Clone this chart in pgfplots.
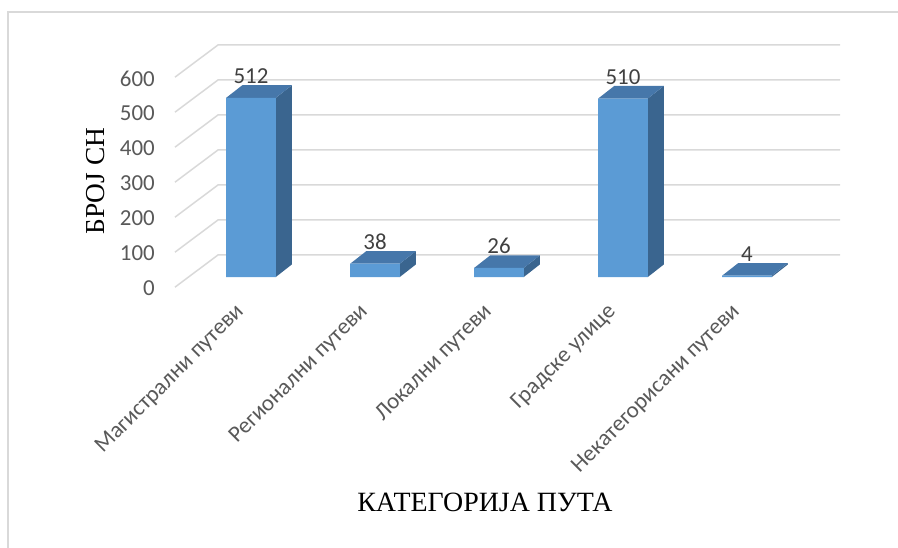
\documentclass[border=0pt]{standalone}
\usepackage{pgfplots}
\pgfplotsset{compat=1.18}
\usepackage{fontspec}
\setmainfont{Carlito}
\newfontfamily\serifcyr{Liberation Serif}
\definecolor{gridc}{HTML}{D9D9D9}
\definecolor{framec}{HTML}{D9D9D9}
\definecolor{barfront}{HTML}{5B9BD5}
\definecolor{bartop}{HTML}{4677AA}
\definecolor{barside}{HTML}{3A658F}
\definecolor{ticktext}{HTML}{595959}
\definecolor{lbltext}{HTML}{404040}
\begin{document}
\begin{tikzpicture}
\path[use as bounding box] (0bp,0bp) rectangle (898bp,-548bp);
\draw[framec, line width=1.5bp] (8bp,-548bp) -- (8bp,-12bp) -- (898bp,-12bp);
\begin{axis}[
  x=124bp, y=0.35bp,
  anchor=origin, at={(251bp,-277bp)},
  xmin=-0.75, xmax=4.8, ymin=-45, ymax=700,
  clip=false,
  axis line style={draw=none},
  tick style={draw=none},
  ytick={0,100,...,600},
  xtick={0,...,4},
  xticklabels={Магистрални путеви, Регионални путеви, Локални путеви, Градске улице, Некатегорисани путеви},
  /pgf/number format/assume math mode=true,
  yticklabel style={font=\fontsize{23}{27}\selectfont, text=ticktext, anchor=east, inner sep=0pt, xshift=-3bp, yshift=-11.5bp},
  xticklabel style={xshift=-17bp, yshift=-9bp, font=\fontsize{23}{27}\selectfont, text=ticktext, rotate=45, anchor=north east, inner sep=0pt},
  xlabel={КАТЕГОРИЈА ПУТА},
  xlabel style={at={(rel axis cs:0.4751,-0.8025)}, anchor=center, font=\serifcyr\fontsize{28}{32}\selectfont, text=black},
  ylabel={БРОЈ СН},
  ylabel style={at={(rel axis cs:-0.0901,0.4286)}, anchor=center, font=\serifcyr\fontsize{27.5}{31}\selectfont, text=black},
]
% gridlines (side wall + back wall)
\addplot[gridc, line width=1.5bp] coordinates {(-0.613,-29) (-0.266,63) (4.75,63)};
\addplot[gridc, line width=1.5bp] coordinates {(-0.613,71) (-0.266,163) (4.75,163)};
\addplot[gridc, line width=1.5bp] coordinates {(-0.613,171) (-0.266,263) (4.75,263)};
\addplot[gridc, line width=1.5bp] coordinates {(-0.613,271) (-0.266,363) (4.75,363)};
\addplot[gridc, line width=1.5bp] coordinates {(-0.613,371) (-0.266,463) (4.75,463)};
\addplot[gridc, line width=1.5bp] coordinates {(-0.613,471) (-0.266,563) (4.75,563)};
\addplot[gridc, line width=1.5bp] coordinates {(-0.613,571) (-0.266,663) (4.75,663)};
% side faces
\addplot[fill=barside, draw=none] coordinates {(0.2,0) (0.33,36) (0.33,548) (0.2,512)};
\addplot[fill=barside, draw=none] coordinates {(1.2,0) (1.33,36) (1.33,74) (1.2,38)};
\addplot[fill=barside, draw=none] coordinates {(2.2,0) (2.33,36) (2.33,62) (2.2,26)};
\addplot[fill=barside, draw=none] coordinates {(3.2,0) (3.33,36) (3.33,546) (3.2,510)};
\addplot[fill=barside, draw=none] coordinates {(4.2,0) (4.33,36) (4.33,40) (4.2,4)};
% top faces
\addplot[fill=bartop, draw=none] coordinates {(-0.2,512) (0.2,512) (0.33,548) (-0.07,548)};
\addplot[fill=bartop, draw=none] coordinates {(0.8,38) (1.2,38) (1.33,74) (0.93,74)};
\addplot[fill=bartop, draw=none] coordinates {(1.8,26) (2.2,26) (2.33,62) (1.93,62)};
\addplot[fill=bartop, draw=none] coordinates {(2.8,510) (3.2,510) (3.33,546) (2.93,546)};
\addplot[fill=bartop, draw=none] coordinates {(3.8,4) (4.2,4) (4.33,40) (3.93,40)};
% front faces with value labels
\addplot[ybar, bar width=0.403, fill=barfront, draw=none,
  nodes near coords,
  nodes near coords style={font=\fontsize{23}{27}\selectfont, text=lbltext, inner sep=0pt, anchor=south, yshift=14bp, /pgf/number format/assume math mode=true}]
  coordinates {(0,512) (1,38) (2,26) (3,510) (4,4)};
\end{axis}
\end{tikzpicture}
\end{document}
